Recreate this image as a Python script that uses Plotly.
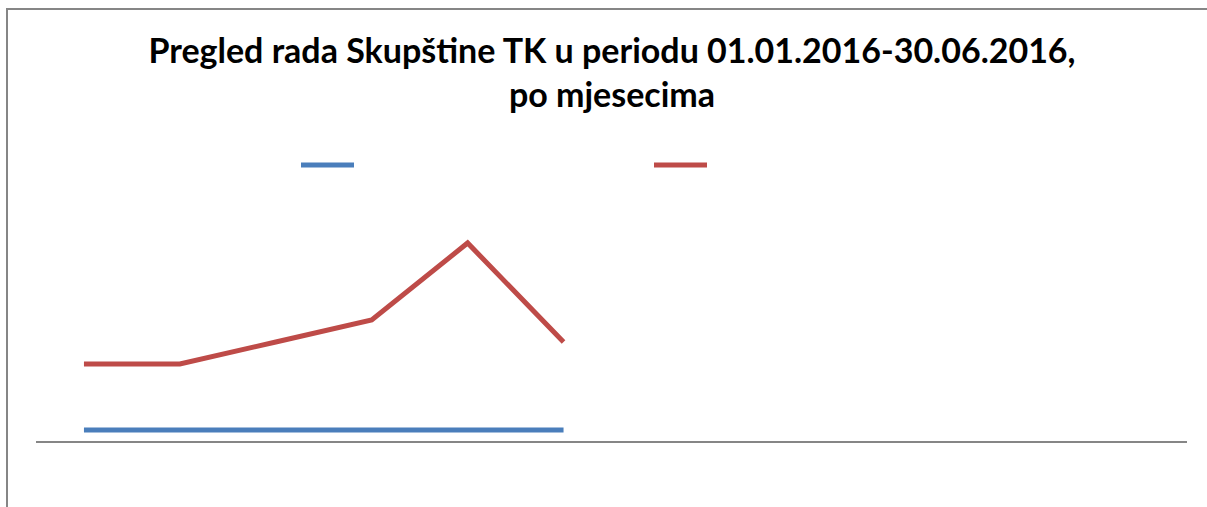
import plotly.graph_objects as go

months = ["Januar", "Februar", "Mart", "April", "Maj", "Juni",
          "Juli", "August", "Septembar", "Oktobar", "Novembar", "Decembar"]
data_months = months[:6]
series_a = [1, 1, 1, 1, 1, 1]
series_b = [7, 7, 9, 11, 18, 9]

W, H = 1207, 507
L, R, T, B = 36, 20, 221, 66

fig = go.Figure()
fig.add_trace(go.Scatter(x=data_months, y=series_a, mode="lines",
                         line=dict(color="#4A7EBB", width=5), showlegend=False))
fig.add_trace(go.Scatter(x=data_months, y=series_b, mode="lines",
                         line=dict(color="#BE4B48", width=5), showlegend=False))

def px2paper_x(px):
    return (px - L) / (W - L - R)

def px2paper_y(py):
    return (H - B - py) / (H - T - B)

shapes = [
    # outer chart border (extends beyond the visible window)
    dict(type="rect", xref="paper", yref="paper",
         x0=px2paper_x(7), x1=px2paper_x(1230), y0=px2paper_y(530), y1=px2paper_y(9),
         line=dict(color="#868686", width=2), fillcolor="rgba(0,0,0,0)", layer="below"),
    # legend swatches
    dict(type="line", xref="paper", yref="paper",
         x0=px2paper_x(301), x1=px2paper_x(354), y0=px2paper_y(165), y1=px2paper_y(165),
         line=dict(color="#4A7EBB", width=5)),
    dict(type="line", xref="paper", yref="paper",
         x0=px2paper_x(654), x1=px2paper_x(707), y0=px2paper_y(165), y1=px2paper_y(165),
         line=dict(color="#BE4B48", width=5)),
]

fig.update_layout(
    width=W, height=H,
    margin=dict(l=L, r=R, t=T, b=B),
    paper_bgcolor="white", plot_bgcolor="white",
    title=dict(text="Pregled rada Skupštine TK u periodu 01.01.2016-30.06.2016,<br>po mjesecima",
               x=612 / W, xanchor="center", xref="container",
               y=1 - 63 / H, yanchor="top", yref="container",
               font=dict(family="Lato", size=34, color="black", weight="bold")),
    xaxis=dict(type="category", categoryarray=months, categoryorder="array",
               range=[-0.5, 11.5], showgrid=False, zeroline=False,
               showticklabels=False, ticks="", showline=True,
               linecolor="#868686", linewidth=2),
    yaxis=dict(range=[0, 20], visible=False),
    shapes=shapes,
    showlegend=False,
)

fig.write_html("out.html", config={"displayModeBar": False},
               post_script="document.body.style.margin='0';")
